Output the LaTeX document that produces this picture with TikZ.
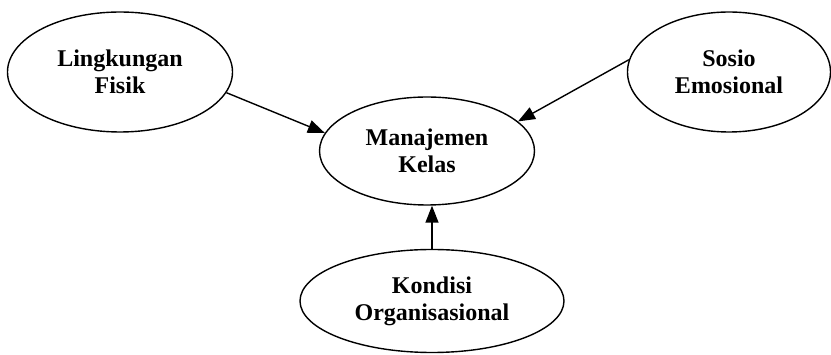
\documentclass[tikz,border=0pt]{standalone}
\usepackage{fontspec}
\setmainfont{Liberation Serif}
\usetikzlibrary{shapes.geometric,arrows.meta,positioning}

\begin{document}
\begin{tikzpicture}[
        x=1pt, y=-1pt,
        factor/.style={ellipse, draw, line width=1.4pt, inner sep=0pt, align=center,
            font=\bfseries\fontsize{24}{27}\selectfont},
        arrow/.style={-{Triangle[length=17pt,width=13pt]}, line width=1.4pt}
    ]
        \useasboundingbox (0,0) rectangle (831,355);
        \node[factor, minimum width=225pt, minimum height=120pt] (fisik) at (120,72) {Lingkungan\\Fisik};
        \node[factor, minimum width=203pt, minimum height=120pt] (sosio) at (729,72) {Sosio\\Emosional};
        \node[factor, minimum width=215pt, minimum height=108pt] (kelas) at (427,151) {Manajemen\\Kelas};
        \node[factor, minimum width=264pt, minimum height=103pt] (kondisi) at (432,301) {Kondisi\\Organisasional};
        
        \draw[arrow] (fisik.-11) -- (kelas.170);
        \draw[arrow] (sosio.173) -- (kelas.18);
        \draw[arrow] (kondisi.north) -- (kondisi.north |- kelas.south);
        
    \end{tikzpicture}
\end{document}
